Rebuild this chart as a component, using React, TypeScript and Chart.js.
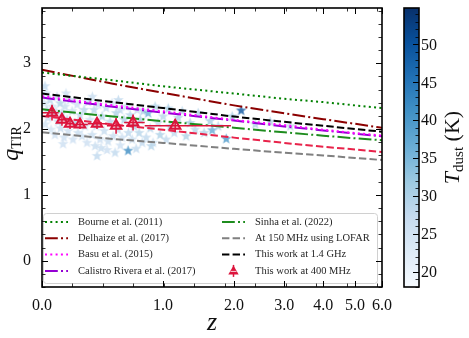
import React, { useEffect, useRef } from "react";
import { Chart, registerables } from "chart.js";
Chart.register(...registerables);

const FONT = '"Liberation Serif", "Times New Roman", serif';
const W = 469;
const H = 338;
const AREA = { left: 42, top: 3, right: 382, bottom: 287 };

// ---- axes ----
const zMajorTicks = [0, 1, 2, 3, 4, 5, 6];
const qMajorTicks = [0, 1, 2, 3];
const tDustTicks = [20, 25, 30, 35, 40, 45, 50];
const Z_MAX = 6;
const Q_MIN = -0.4;
const Q_MAX = 3.84;
const T_MIN = 18.0;
const T_MAX = 54.8;
const X_MINOR_STEP = 0.0757; // in log10(1+z)
const Y_MINOR_STEP = 0.2;
const T_MINOR_STEP = 1;

// ---- literature relations, q_TIR read at these redshifts ----
const zLine = [0, 0.5, 1, 2, 3, 4, 5, 6];
const qBourne = [2.86, 2.74, 2.65, 2.54, 2.46, 2.41, 2.36, 2.32];
const qDelhaize = [2.9, 2.69, 2.55, 2.36, 2.24, 2.15, 2.08, 2.02];
const qBasu = [2.5, 2.36, 2.27, 2.14, 2.06, 1.99, 1.94, 1.9];
const qCalistro = [2.48, 2.34, 2.25, 2.13, 2.04, 1.98, 1.93, 1.89];
const qSinha = [2.3, 2.19, 2.12, 2.02, 1.95, 1.9, 1.86, 1.83];
const qLofar = [1.95, 1.85, 1.79, 1.7, 1.64, 1.6, 1.56, 1.53];
const q14GHz = [2.54, 2.41, 2.32, 2.19, 2.11, 2.05, 2.0, 1.96];
const q400Fit = [2.2, 2.07, 1.99, 1.87, 1.79, 1.73, 1.69, 1.65];

// ---- binned 400 MHz measurements ----
const zBin = [0.059, 0.121, 0.174, 0.243, 0.37, 0.528, 0.684, 1.143];
const qBin = [2.25, 2.14, 2.08, 2.07, 2.08, 2.05, 2.1, 2.05];
const qBinErr = [0.12, 0.09, 0.08, 0.07, 0.08, 0.12, 0.12, 0.1];
const zBinLo = [0.0, 0.1, 0.15, 0.2, 0.3, 0.45, 0.6, 0.8];
const zBinHi = [0.1, 0.15, 0.2, 0.3, 0.45, 0.6, 0.8, 1.95];

// ---- individual sources ----
const starZ = [0.017, 0.023, 0.012, 0.029, 0.035, 0.019, 0.047, 0.059, 0.065, 0.053, 0.077, 0.09, 0.096, 0.083, 0.109, 0.112, 0.121, 0.134, 0.141, 0.154, 0.161, 0.174, 0.188, 0.194, 0.208, 0.222, 0.229, 0.243, 0.257, 0.272, 0.279, 0.294, 0.301, 0.316, 0.332, 0.347, 0.363, 0.37, 0.378, 0.394, 0.41, 0.427, 0.443, 0.451, 0.46, 0.476, 0.493, 0.502, 0.519, 0.528, 0.546, 0.563, 0.581, 0.6, 0.618, 0.637, 0.64, 0.656, 0.675, 0.694, 0.714, 0.724, 0.743, 0.754, 0.784, 0.815, 0.836, 0.857, 0.888, 0.91, 0.943, 0.966, 1.0, 1.035, 1.059, 1.083, 1.131, 1.18, 1.23, 1.281, 1.334, 1.402, 1.444, 1.529, 1.618, 1.648, 1.741, 1.87, 1.969, 2.126, 2.388, 2.692, 3.14, 0.128, 0.355, 0.565, 0.774, 0.147, 0.334, 0.548, 0.402, 0.868];
const starQ = [2.66, 2.55, 2.4, 2.3, 2.18, 2.08, 2.45, 2.35, 2.22, 2.0, 1.92, 2.5, 2.12, 2.28, 2.4, 2.02, 2.25, 1.88, 2.35, 2.15, 1.98, 2.45, 2.28, 1.85, 2.1, 2.38, 1.95, 2.22, 1.9, 2.3, 2.05, 1.8, 2.42, 2.15, 1.92, 2.3, 2.05, 1.6, 2.38, 1.85, 2.2, 1.98, 2.33, 1.69, 1.82, 2.12, 2.4, 1.9, 1.65, 2.25, 2.0, 2.3, 1.88, 2.15, 2.35, 1.68, 1.95, 2.22, 1.85, 2.05, 1.71, 2.3, 1.95, 2.15, 2.28, 1.88, 2.25, 2.02, 1.8, 2.35, 2.1, 1.92, 2.2, 1.85, 2.32, 2.05, 1.95, 2.18, 2.28, 1.9, 2.1, 2.0, 2.25, 1.95, 2.13, 1.99, 2.05, 1.86, 2.2, 2.29, 2.08, 2.12, 2.05, 1.78, 1.75, 1.76, 1.8, 2.55, 2.5, 2.45, 1.72, 1.75];
const starT = [28, 26, 25, 27, 26, 25, 28, 26, 29, 25, 26, 27, 28, 26, 30, 27, 28, 26, 27, 29, 26, 28, 27, 26, 30, 26, 27, 28, 26, 29, 27, 26, 28, 26, 27, 29, 26, 28, 27, 26, 30, 27, 28, 26, 27, 29, 26, 27, 28, 30, 27, 28, 26, 30, 27, 42, 28, 29, 27, 30, 28, 27, 29, 31, 30, 28, 36, 29, 27, 30, 28, 30, 29, 28, 31, 30, 28, 30, 29, 30, 31, 29, 30, 30, 31, 37, 30, 40, 31, 50, 30, 30, 29, 26, 27, 26, 28, 26, 27, 28, 27, 29];

// ---- legend ----
const DOT = [2, 3.3];
const DASH = [7.4, 3.2];
const DASHDOT = [12.8, 3.2, 2, 3.2];
const CRIMSON = "#dc143c";
const legendLeft = [
  { label: "Bourne et al. (2011)", color: "#008000", dash: DOT },
  { label: "Delhaize et al. (2017)", color: "#8b0000", dash: DASHDOT },
  { label: "Basu et al. (2015)", color: "#ff00ff", dash: DOT },
  { label: "Calistro Rivera et al. (2017)", color: "#9400d3", dash: DASHDOT },
];
const legendRight = [
  { label: "Sinha et al. (2022)", color: "#1e8c1e", dash: DASHDOT },
  { label: "At 150 MHz using LOFAR", color: "#808080", dash: DASH },
  { label: "This work at 1.4 GHz", color: "#000000", dash: DASH },
  { label: "This work at 400 MHz", color: CRIMSON, dash: null },
];

const BLUES = ["#f7fbff", "#deebf7", "#c6dbef", "#9ecae1", "#6baed6", "#4292c6", "#2171b5", "#08519c", "#08306b"];

const U = (z: number) => Math.log10(1 + z);

function hexRgb(h: string) {
  const n = parseInt(h.slice(1), 16);
  return [(n >> 16) & 255, (n >> 8) & 255, n & 255];
}
function bluesColor(T: number, alpha = 1) {
  const t = Math.min(1, Math.max(0, (T - T_MIN) / (T_MAX - T_MIN)));
  const p = t * (BLUES.length - 1);
  const i = Math.min(BLUES.length - 2, Math.floor(p));
  const f = p - i;
  const a = hexRgb(BLUES[i]);
  const b = hexRgb(BLUES[i + 1]);
  const c = a.map((v, k) => Math.round(v + (b[k] - v) * f));
  return `rgba(${c[0]},${c[1]},${c[2]},${alpha})`;
}

const starCache = new Map<string, HTMLCanvasElement>();
function starImage(color: string) {
  const hit = starCache.get(color);
  if (hit) return hit;
  const size = 13;
  const R = 5.6;
  const r = 2.3;
  const c = document.createElement("canvas");
  c.width = size;
  c.height = size;
  const g = c.getContext("2d")!;
  g.beginPath();
  for (let i = 0; i < 10; i++) {
    const ang = -Math.PI / 2 + (i * Math.PI) / 5;
    const rad = i % 2 === 0 ? R : r;
    const x = size / 2 + rad * Math.cos(ang);
    const y = size / 2 + 0.6 + rad * Math.sin(ang);
    if (i === 0) g.moveTo(x, y);
    else g.lineTo(x, y);
  }
  g.closePath();
  g.fillStyle = color;
  g.fill();
  starCache.set(color, c);
  return c;
}

function lineDataset(label: string, q: number[], color: string, dash: number[]) {
  return {
    label,
    data: zLine.map((z, i) => ({ x: U(z), y: q[i] })),
    showLine: true,
    borderColor: color,
    borderWidth: 2,
    borderDash: dash,
    pointRadius: 0,
    pointHoverRadius: 0,
    fill: false,
    tension: 0,
    order: 5,
  };
}

function drawRotated(ctx: CanvasRenderingContext2D, cx: number, cy: number, parts: { t: string; f: string; dy: number }[]) {
  ctx.save();
  ctx.translate(cx, cy);
  ctx.rotate(-Math.PI / 2);
  ctx.textBaseline = "alphabetic";
  ctx.textAlign = "left";
  let total = 0;
  for (const p of parts) {
    ctx.font = p.f;
    total += ctx.measureText(p.t).width;
  }
  let x = -total / 2;
  for (const p of parts) {
    ctx.font = p.f;
    ctx.fillText(p.t, x, p.dy);
    x += ctx.measureText(p.t).width;
  }
  ctx.restore();
}

function drawTriangle(ctx: CanvasRenderingContext2D, x: number, y: number, r: number) {
  ctx.beginPath();
  ctx.moveTo(x, y - r);
  ctx.lineTo(x + r * Math.sin((2 * Math.PI) / 3), y - r * Math.cos((2 * Math.PI) / 3));
  ctx.lineTo(x + r * Math.sin((4 * Math.PI) / 3), y - r * Math.cos((4 * Math.PI) / 3));
  ctx.closePath();
}

const TRI_INDEX = 9;

const decorPlugin = {
  id: "decor",
  beforeDatasetDraw(chart: any, args: any) {
    if (args.index !== TRI_INDEX) return;
    const { ctx, scales } = chart;
    const x = scales.x;
    const y = scales.y;
    ctx.save();
    ctx.strokeStyle = CRIMSON;
    ctx.lineWidth = 1.5;
    zBin.forEach((z, i) => {
      const px = x.getPixelForValue(U(z));
      const py = y.getPixelForValue(qBin[i]);
      ctx.beginPath();
      ctx.moveTo(px, y.getPixelForValue(qBin[i] - qBinErr[i]));
      ctx.lineTo(px, y.getPixelForValue(qBin[i] + qBinErr[i]));
      ctx.moveTo(x.getPixelForValue(U(zBinLo[i])), py);
      ctx.lineTo(x.getPixelForValue(U(zBinHi[i])), py);
      ctx.stroke();
    });
    ctx.restore();
  },
  afterDraw(chart: any) {
    const { ctx, chartArea: a, scales } = chart;
    const xs = scales.x;
    const ys = scales.y;
    const ts = scales.tdust;
    ctx.save();

    // ---- legend ----
    const lx0 = 43.5, lx1 = 377.5, ly0 = 213.5, ly1 = 283.5, rr = 3;
    ctx.beginPath();
    ctx.moveTo(lx0 + rr, ly0);
    ctx.lineTo(lx1 - rr, ly0);
    ctx.arcTo(lx1, ly0, lx1, ly0 + rr, rr);
    ctx.lineTo(lx1, ly1 - rr);
    ctx.arcTo(lx1, ly1, lx1 - rr, ly1, rr);
    ctx.lineTo(lx0 + rr, ly1);
    ctx.arcTo(lx0, ly1, lx0, ly1 - rr, rr);
    ctx.lineTo(lx0, ly0 + rr);
    ctx.arcTo(lx0, ly0, lx0 + rr, ly0, rr);
    ctx.closePath();
    ctx.fillStyle = "rgba(255,255,255,0.8)";
    ctx.fill();
    ctx.strokeStyle = "#d0d0d0";
    ctx.lineWidth = 1;
    ctx.stroke();

    const rowsY = [222, 238.3, 254.6, 270.9];
    const cols = [
      { items: legendLeft, h0: 45, h1: 68, tx: 78 },
      { items: legendRight, h0: 222, h1: 245, tx: 255 },
    ];
    ctx.font = `10.5px ${FONT}`;
    ctx.textBaseline = "middle";
    ctx.textAlign = "left";
    for (const col of cols) {
      col.items.forEach((it, i) => {
        const yy = rowsY[i];
        if (it.dash) {
          ctx.save();
          ctx.strokeStyle = it.color;
          ctx.lineWidth = 2;
          ctx.setLineDash(it.dash);
          ctx.beginPath();
          ctx.moveTo(col.h0, yy);
          ctx.lineTo(col.h1, yy);
          ctx.stroke();
          ctx.restore();
        } else {
          const cx = (col.h0 + col.h1) / 2;
          ctx.save();
          ctx.strokeStyle = it.color;
          ctx.lineWidth = 1.5;
          ctx.beginPath();
          ctx.moveTo(cx, yy - 6);
          ctx.lineTo(cx, yy + 6);
          ctx.stroke();
          drawTriangle(ctx, cx, yy + 0.5, 6);
          ctx.fillStyle = it.color;
          ctx.fill();
          ctx.strokeStyle = "rgba(255,255,255,0.8)";
          ctx.lineWidth = 1;
          ctx.beginPath();
          ctx.moveTo(cx - 3, yy + 0.5);
          ctx.lineTo(cx + 3, yy + 0.5);
          ctx.stroke();
          ctx.restore();
        }
        ctx.fillStyle = "#262626";
        ctx.fillText(it.label, col.tx, yy);
      });
    }

    // ---- ticks (inward, all sides) ----
    ctx.strokeStyle = "#000";
    const vtick = (px: number, len: number) => {
      ctx.beginPath();
      ctx.moveTo(px, a.bottom);
      ctx.lineTo(px, a.bottom - len);
      ctx.moveTo(px, a.top);
      ctx.lineTo(px, a.top + len);
      ctx.stroke();
    };
    const htick = (py: number, len: number) => {
      ctx.beginPath();
      ctx.moveTo(a.left, py);
      ctx.lineTo(a.left + len, py);
      ctx.moveTo(a.right, py);
      ctx.lineTo(a.right - len, py);
      ctx.stroke();
    };
    ctx.lineWidth = 0.8;
    for (let u = X_MINOR_STEP; u < xs.max - 0.005; u += X_MINOR_STEP) vtick(Math.round(xs.getPixelForValue(u)) + 0.5, 3.5);
    for (let k = Math.ceil(Q_MIN / Y_MINOR_STEP); k * Y_MINOR_STEP <= Q_MAX; k++) htick(Math.round(ys.getPixelForValue(k * Y_MINOR_STEP)) + 0.5, 3.5);
    ctx.lineWidth = 1;
    for (const z of zMajorTicks) vtick(Math.round(xs.getPixelForValue(U(z))) + 0.5, 6);
    for (const q of qMajorTicks) htick(Math.round(ys.getPixelForValue(q)) + 0.5, 6);

    // frame
    ctx.lineWidth = 1.6;
    ctx.strokeRect(a.left, a.top, a.right - a.left, a.bottom - a.top);

    // ---- colorbar ----
    const cbL = 404, cbR = 419;
    const cbT = ts.getPixelForValue(T_MAX);
    const cbB = ts.getPixelForValue(T_MIN);
    const grad = ctx.createLinearGradient(0, cbB, 0, cbT);
    BLUES.forEach((c, i) => grad.addColorStop(i / (BLUES.length - 1), c));
    ctx.fillStyle = grad;
    ctx.fillRect(cbL, cbT, cbR - cbL, cbB - cbT);
    ctx.lineWidth = 0.8;
    for (let T = Math.ceil(T_MIN); T <= T_MAX; T += T_MINOR_STEP) {
      const py = Math.round(ts.getPixelForValue(T)) + 0.5;
      const major = tDustTicks.includes(T);
      ctx.lineWidth = major ? 1 : 0.8;
      ctx.beginPath();
      ctx.moveTo(cbR, py);
      ctx.lineTo(cbR - (major ? 6 : 3.5), py);
      ctx.stroke();
    }
    ctx.lineWidth = 1.6;
    ctx.strokeRect(cbL, cbT, cbR - cbL, cbB - cbT);
    ctx.fillStyle = "#111";
    ctx.font = `16px ${FONT}`;
    ctx.textAlign = "left";
    ctx.textBaseline = "middle";
    for (const T of tDustTicks) ctx.fillText(String(T), cbR + 2, ts.getPixelForValue(T) + 1);

    // ---- axis titles ----
    ctx.fillStyle = "#111";
    drawRotated(ctx, 18, (a.top + a.bottom) / 2 - 4, [
      { t: "q", f: `italic 24px ${FONT}`, dy: 0 },
      { t: "TIR", f: `14px ${FONT}`, dy: 3 },
    ]);
    drawRotated(ctx, 459, (cbT + cbB) / 2, [
      { t: "T", f: `italic 22px ${FONT}`, dy: 0 },
      { t: "dust", f: `15px ${FONT}`, dy: 4 },
      { t: " (K)", f: `22px ${FONT}`, dy: 0 },
    ]);
    ctx.font = `italic 26px ${FONT}`;
    ctx.textAlign = "center";
    ctx.textBaseline = "alphabetic";
    ctx.fillText("z", (a.left + a.right) / 2, 330);
    ctx.restore();
  },
};

export default function App() {
  const ref = useRef<HTMLCanvasElement>(null);
  useEffect(() => {
    document.body.style.margin = "0";
    Chart.defaults.font.family = FONT;
    const datasets: any[] = [
      {
        label: "sources",
        data: starZ.map((z, i) => ({ x: U(z), y: starQ[i] })),
        showLine: false,
        pointStyle: (c: any) => starImage(bluesColor(starT[c.dataIndex] ?? 25, 0.8)),
        pointRadius: 5,
        pointHoverRadius: 5,
        order: 10,
      },
      lineDataset("Bourne et al. (2011)", qBourne, "#008000", DOT),
      lineDataset("Delhaize et al. (2017)", qDelhaize, "#8b0000", DASHDOT),
      lineDataset("Basu et al. (2015)", qBasu, "#ff00ff", DOT),
      lineDataset("Calistro Rivera et al. (2017)", qCalistro, "#9400d3", DASHDOT),
      lineDataset("Sinha et al. (2022)", qSinha, "#1e8c1e", DASHDOT),
      lineDataset("At 150 MHz using LOFAR", qLofar, "#808080", DASH),
      lineDataset("This work at 1.4 GHz", q14GHz, "#000000", DASH),
      lineDataset("400 MHz relation", q400Fit, "#e8234a", DASH),
      {
        label: "This work at 400 MHz",
        data: zBin.map((z, i) => ({ x: U(z), y: qBin[i] })),
        showLine: false,
        pointStyle: "triangle",
        pointRadius: 6,
        pointHoverRadius: 6,
        pointBorderColor: CRIMSON,
        pointBackgroundColor: "rgba(220,20,60,0.2)",
        pointBorderWidth: 2,
        order: 0,
      },
    ];
    const chart = new Chart(ref.current!, {
      type: "scatter",
      data: { datasets },
      options: {
        responsive: false,
        animation: false,
        devicePixelRatio: 1,
        events: [],
        layout: { padding: { left: 0, top: AREA.top, right: W - AREA.right, bottom: 0 } },
        plugins: { legend: { display: false }, tooltip: { enabled: false } },
        scales: {
          x: {
            type: "linear",
            min: 0,
            max: U(Z_MAX),
            grid: { display: false },
            border: { display: false },
            ticks: {
              autoSkip: false,
              maxRotation: 0,
              minRotation: 0,
              padding: 1,
              color: "#111",
              font: { family: FONT, size: 16 },
              callback: (v: any) => (Math.pow(10, Number(v)) - 1).toFixed(1),
            },
            afterBuildTicks: (s: any) => {
              s.ticks = zMajorTicks.map((z) => ({ value: U(z) }));
            },
            afterFit: (s: any) => {
              s.height = H - AREA.bottom;
              s.paddingLeft = 0;
              s.paddingRight = 0;
              s.paddingTop = 0;
              s.paddingBottom = 0;
            },
          },
          y: {
            type: "linear",
            min: Q_MIN,
            max: Q_MAX,
            grid: { display: false },
            border: { display: false },
            ticks: {
              padding: 3,
              color: "#111",
              font: { family: FONT, size: 16 },
              callback: (v: any) => String(v),
            },
            afterBuildTicks: (s: any) => {
              s.ticks = qMajorTicks.map((q) => ({ value: q }));
            },
            afterFit: (s: any) => {
              s.width = AREA.left;
              s.paddingLeft = 0;
              s.paddingRight = 0;
              s.paddingTop = 0;
              s.paddingBottom = 0;
            },
          },
          tdust: {
            type: "linear",
            axis: "y",
            position: "right",
            display: false,
            min: T_MIN,
            max: T_MAX,
          },
        },
      } as any,
      plugins: [decorPlugin],
    });
    return () => chart.destroy();
  }, []);
  return (
    <div style={{ width: W, height: H }}>
      <canvas ref={ref} width={W} height={H} style={{ display: "block", width: W, height: H }} />
    </div>
  );
}
